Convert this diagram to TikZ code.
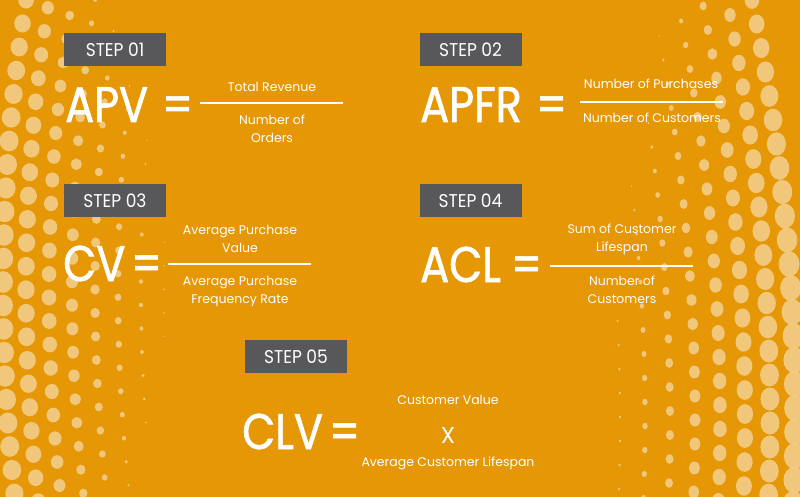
\documentclass[tikz,border=0pt]{standalone}
\usepackage{fontspec}
\setmainfont{Poppins}
\newfontfamily\bigfont[FakeBold=1.3,FakeStretch=0.86]{Poppins}
\newfontfamily\stepfont[FakeStretch=0.92]{Poppins}
\definecolor{bgorange}{HTML}{E59706}
\definecolor{boxgray}{HTML}{58585A}
\definecolor{dotcol}{HTML}{F3CD88}
\begin{document}
\begin{tikzpicture}[x=1pt,y=-1pt,
  stepbox/.style={fill=boxgray,text=white,minimum width=102pt,minimum height=33pt,inner sep=0pt,font=\stepfont\fontsize{18.5}{18.5}\selectfont},
  bigtxt/.style={text=white,inner sep=0pt,anchor=base west,font=\bigfont\fontsize{50}{50}\selectfont},
  smalltxt/.style={text=white,inner sep=0pt,align=center,font=\fontsize{12.5}{18}\selectfont},
  fracline/.style={draw=white,line width=2pt},
  dot/.style={fill=dotcol,draw=none,opacity=0.9}]
\useasboundingbox (0,0) rectangle (800,497);
\fill[bgorange] (0,0) rectangle (800,497);
% left dots
\foreach \i in {0,...,8}{
  \foreach \j in {-1,...,22}{
    \pgfmathsetmacro{\yy}{\j*23.5+mod(\i,2)*11.75-\i*4}
    \pgfmathsetmacro{\xx}{3+\i*23+0.00028*(\yy-290)*(\yy-290)}
    \pgfmathsetmacro{\dd}{\xx*(1+0.5*((\yy-290)/290)^2)}
    \pgfmathsetmacro{\rr}{11-0.062*\dd}
    \pgfmathparse{\rr>0.6?1:0}
    \ifnum\pgfmathresult=1
      \fill[dot] (\xx,\yy) ellipse[x radius=0.92*\rr, y radius=\rr];
    \fi
  }
}
% right dots
\foreach \i in {0,...,8}{
  \foreach \j in {-1,...,22}{
    \pgfmathsetmacro{\yy}{\j*24+mod(\i,2)*12+\i*3}
    \pgfmathsetmacro{\xp}{5+\i*25+0.00025*(\yy-420)*(\yy-420)}
    \pgfmathsetmacro{\dd}{\xp*(1+0.45*((\yy-420)/420)^2)}
    \pgfmathsetmacro{\rr}{13.5-0.066*\dd}
    \pgfmathparse{\rr>0.6?1:0}
    \ifnum\pgfmathresult=1
      \fill[dot] (800-\xp,\yy) ellipse[x radius=0.82*\rr, y radius=\rr];
    \fi
  }
}
% STEP 01
\node[stepbox] (s1) at (115,49.5) {STEP 01};
\node[bigtxt] (apv) at (65,122) {APV};
\node[bigtxt] (eq1) at (162,122) {=};
\coordinate (l1a) at (200,103); \coordinate (l1b) at (343,103);
\draw[fracline] (l1a) -- (l1b);
\node[smalltxt] (n1) at (272,87) {Total Revenue};
\node[smalltxt] (d1) at (272,129) {Number of\\Orders};
% STEP 02
\node[stepbox] (s2) at (470.5,49.5) {STEP 02};
\node[bigtxt] (apfr) at (420,122) {APFR};
\node[bigtxt] (eq2) at (536,122) {=};
\coordinate (l2a) at (580,102); \coordinate (l2b) at (723,102);
\draw[fracline] (l2a) -- (l2b);
\node[smalltxt] (n2) at (651,84) {Number of Purchases};
\node[smalltxt] (d2) at (652,118) {Number of Customers};
% STEP 03
\node[stepbox] (s3) at (115,200.5) {STEP 03};
\node[bigtxt] (cv) at (63,281) {CV};
\node[bigtxt] (eq3) at (131,281) {=};
\coordinate (l3a) at (168,264); \coordinate (l3b) at (311,264);
\draw[fracline] (l3a) -- (l3b);
\node[smalltxt] (n3) at (240,239) {Average Purchase\\Value};
\node[smalltxt] (d3) at (240,291) {Average Purchase\\Frequency Rate};
% STEP 04
\node[stepbox] (s4) at (470.5,200.5) {STEP 04};
\node[bigtxt] (acl) at (420,282) {ACL};
\node[bigtxt] (eq4) at (511,282) {=};
\coordinate (l4a) at (550,266); \coordinate (l4b) at (693,266);
\draw[fracline] (l4a) -- (l4b);
\node[smalltxt] (n4) at (622,239) {Sum of Customer\\Lifespan};
\node[smalltxt] (d4) at (622,290) {Number of\\Customers};
% STEP 05
\node[stepbox] (s5) at (296,356.5) {STEP 05};
\node[bigtxt] (clv) at (242,449) {CLV};
\node[bigtxt] (eq5) at (329,449) {=};
\node[smalltxt] (n5) at (448,400) {Customer Value};
\node[smalltxt,font=\fontsize{23}{23}\selectfont] (x5) at (448,435) {X};
\node[smalltxt] (d5) at (448,463) {Average Customer Lifespan};
\end{tikzpicture}
\end{document}
